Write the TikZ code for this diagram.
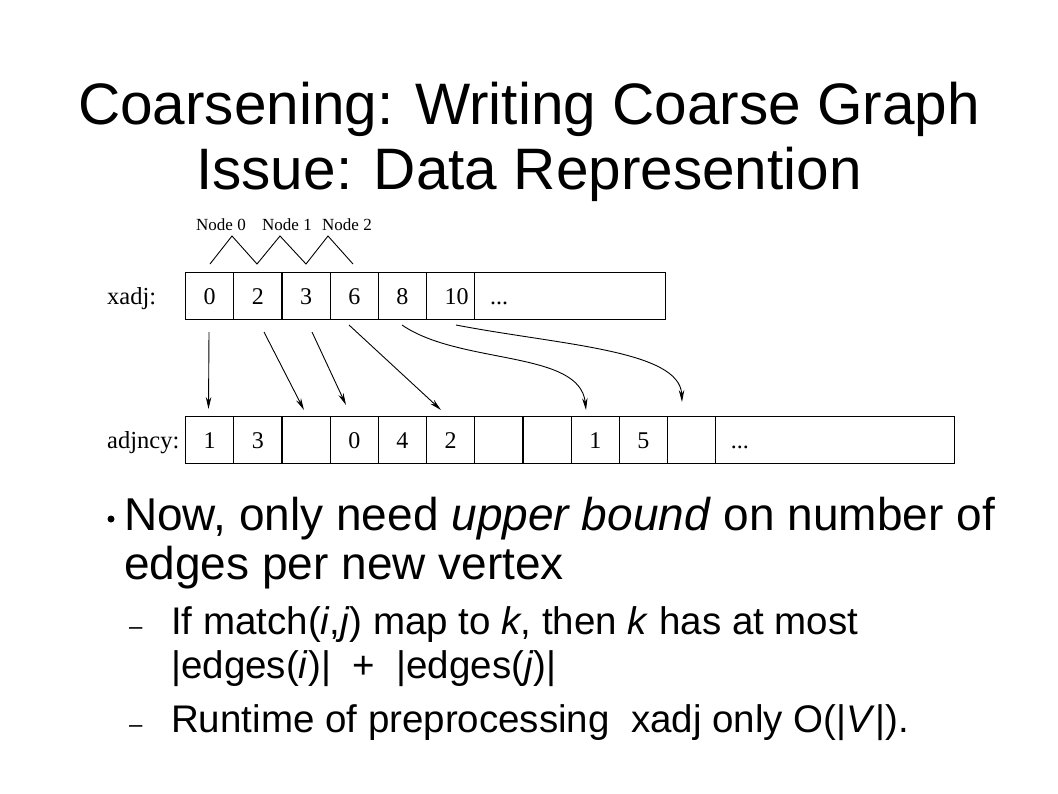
\documentclass[tikz,border=0pt]{standalone}
\usepackage{fontspec}
\setmainfont{Liberation Serif}
\newfontfamily\slidefont{Liberation Sans}
\usetikzlibrary{arrows.meta}
\tikzset{
  cell/.style={draw, line width=1.1pt, minimum width=48.2pt, minimum height=47pt, inner sep=0pt, text height=16pt, text depth=0pt, anchor=north west, font=\fontsize{24}{24}\selectfont},
  tail/.style={draw, line width=1.1pt, minimum height=47pt, inner sep=0pt, text height=16pt, text depth=0pt, anchor=north west, font=\fontsize{24}{24}\selectfont, align=left},
  lab/.style={anchor=base west, inner sep=0pt, font=\fontsize{24.5}{25}\selectfont},
  nodelab/.style={inner sep=0pt, font=\fontsize{17}{17}\selectfont},
  ptr/.style={line width=0.9pt, -{Stealth[length=12pt,width=5.5pt]}},
  title/.style={anchor=base, inner sep=0pt, font=\slidefont\fontsize{58.5}{66}\selectfont},
  big/.style={anchor=base west, inner sep=0pt, font=\slidefont\fontsize{46}{52}\selectfont},
  small/.style={anchor=base west, inner sep=0pt, font=\slidefont\fontsize{38.5}{44}\selectfont},
  dashmark/.style={anchor=base west, inner sep=0pt, font=\slidefont\fontsize{24}{24}\selectfont},
}
\begin{document}
\begin{tikzpicture}[x=1pt,y=-1pt]
\useasboundingbox (0,0) rectangle (1058,793);
\fill[white] (0,0) rectangle (1058,793);

% title
\node[title] (t1) at (529,124) {Coarsening: Writing Coarse Graph};
\node[title] (t2) at (529,189) {Issue: Data Represention};

% node labels and zigzag
\node[nodelab] (n0) at (221,225) {Node 0};
\node[nodelab] (n1) at (287,225) {Node 1};
\node[nodelab] (n2) at (347,225) {Node 2};
\draw[line width=0.9pt] (210,264) -- (232,236) -- (257,264) -- (280,236) -- (306,264) -- (328,236) -- (353,264);

% xadj
\node[lab] (lx) at (107,304) {xadj:};
\node[cell] (xa0) at (185.0,272) {0};
\node[cell] (xa1) at (233.2,272) {2};
\node[cell] (xa2) at (281.4,272) {3};
\node[cell] (xa3) at (329.6,272) {6};
\node[cell] (xa4) at (377.8,272) {8};
\node[cell] (xa5) at (426.0,272) {\hspace*{12pt}10};
\node[tail, minimum width=190.8pt, text width=180pt] (xa6) at (474.2,272) {\hspace*{10pt}...};

% adjncy
\node[lab] (la) at (107,448) {adjncy:};
\node[cell] (ad0) at (185.0,416) {1};
\node[cell] (ad1) at (233.2,416) {3};
\node[cell] (ad2) at (281.4,416) {};
\node[cell] (ad3) at (329.6,416) {0};
\node[cell] (ad4) at (377.8,416) {4};
\node[cell] (ad5) at (426.0,416) {2};
\node[cell] (ad6) at (474.2,416) {};
\node[cell] (ad7) at (522.4,416) {};
\node[cell] (ad8) at (570.6,416) {1};
\node[cell] (ad9) at (618.8,416) {5};
\node[cell] (ad10) at (667.0,416) {};
\node[tail, minimum width=238.3pt, text width=228pt] (ad11) at (715.2,416) {\hspace*{10pt}...};

% pointer coordinates
\coordinate (s0) at (209,332);
\coordinate (s1) at (264,332);
\coordinate (s2) at (312,332);
\coordinate (s3) at (349,325);
\coordinate (s4) at (402,325);
\coordinate (s5) at (456,325);
\coordinate (e0) at (208.5,409);
\coordinate (e1) at (304,410);
\coordinate (e2) at (346,405);
\coordinate (e3) at (441,410);
\coordinate (e4) at (586,410);
\coordinate (e5) at (682,402);
\draw[ptr] (s0) -- (e0);
\draw[ptr] (s1) -- (e1);
\draw[ptr] (s2) -- (e2);
\draw[ptr] (s3) -- (e3);
\draw[ptr] (s4) .. controls (460,365) and (580,350) .. (e4);
\draw[ptr] (s5) .. controls (560,345) and (680,350) .. (e5);

% bullets
\node[circle, fill, inner sep=0pt, minimum size=7pt] (bul) at (111,519) {};
\node[big] (b1) at (124,530) {Now, only need \textit{upper bound} on number of};
\node[big] (b2) at (124,579) {edges per new vertex};
\node[dashmark] (d1) at (129,634) {–};
\node[small] (c1) at (171,634) {If match(\textit{i},\textit{j}) map to \textit{k}, then \textit{k} has at most};
\node[small] (c2) at (171,678) {|edges(\textit{i})|\ \ +\ \ |edges(\textit{j})|};
\node[dashmark] (d2) at (129,732) {–};
\node[small] (c3) at (171,732) {Runtime of preprocessing\ \ xadj only O(|\textit{V}|).};
\end{tikzpicture}
\end{document}
